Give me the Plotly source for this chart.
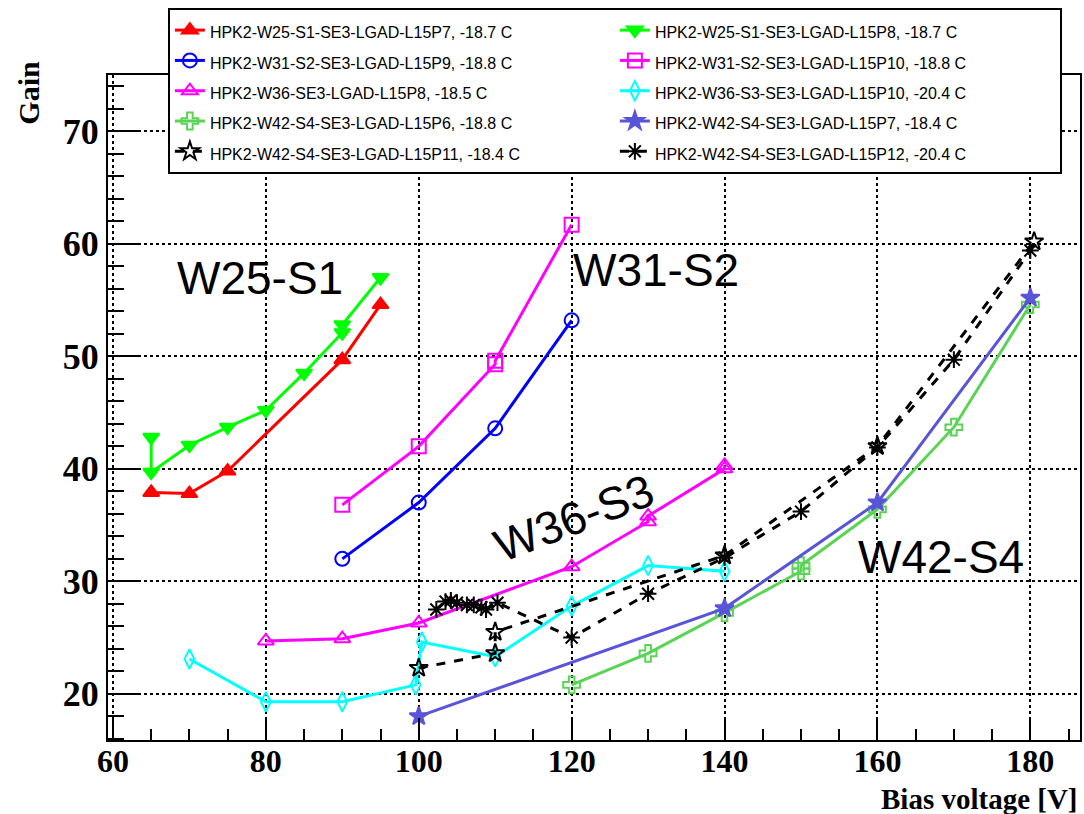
import plotly.graph_objects as go

# Gain vs bias voltage for HPK2 LGAD sensors
labels = [
    "HPK2-W25-S1-SE3-LGAD-L15P7, -18.7 C",
    "HPK2-W25-S1-SE3-LGAD-L15P8, -18.7 C",
    "HPK2-W31-S2-SE3-LGAD-L15P9, -18.8 C",
    "HPK2-W31-S2-SE3-LGAD-L15P10, -18.8 C",
    "HPK2-W36-SE3-LGAD-L15P8, -18.5 C",
    "HPK2-W36-S3-SE3-LGAD-L15P10, -20.4 C",
    "HPK2-W42-S4-SE3-LGAD-L15P6, -18.8 C",
    "HPK2-W42-S4-SE3-LGAD-L15P7, -18.4 C",
    "HPK2-W42-S4-SE3-LGAD-L15P11, -18.4 C",
    "HPK2-W42-S4-SE3-LGAD-L15P12, -20.4 C",
]

w25_p7_v = [65, 70, 75, 90, 95]
w25_p7_g = [37.9, 37.8, 39.8, 49.7, 54.6]

w25_p8_v = [65, 65, 70, 75, 80, 85, 90, 90, 95]
w25_p8_g = [42.8, 39.7, 42.1, 43.7, 45.2, 48.5, 52.1, 52.8, 57.0]

w31_p9_v = [90, 100, 110, 120]
w31_p9_g = [32.0, 37.0, 43.6, 53.2]

w31_p10_v = [90, 100, 110, 110, 120]
w31_p10_g = [36.8, 42.0, 49.3, 49.6, 61.7]

w36_p8_v = [80, 90, 100, 120, 130, 130, 140, 140]
w36_p8_g = [24.7, 24.9, 26.3, 31.3, 35.3, 35.8, 40.0, 40.3]

w36_p10_v = [70, 80, 90, 99.6, 100.4, 110, 120, 130, 140]
w36_p10_g = [23.1, 19.3, 19.3, 20.8, 24.6, 23.3, 27.8, 31.4, 30.9]

w42_p6_v = [120, 130, 140, 150, 150, 160, 170, 180]
w42_p6_g = [20.8, 23.6, 27.2, 30.9, 31.4, 36.4, 43.7, 54.6]

w42_p7_v = [100, 140, 160, 180]
w42_p7_g = [18.0, 27.6, 37.0, 55.2]

w42_p11_v = [100, 110, 110, 140, 160, 180.5]
w42_p11_g = [22.3, 23.6, 25.5, 32.3, 42.0, 60.2]

w42_p12_v = [102.3, 103.5, 104.2, 105, 106.3, 107.2, 108.2, 108.8, 110.3,
             120, 130, 140, 150, 160, 170, 180]
w42_p12_g = [27.5, 28.2, 28.3, 28.1, 27.9, 27.9, 27.7, 27.5, 28.1,
             25.0, 28.9, 32.1, 36.2, 41.9, 49.7, 59.4]

series = [
    (w25_p7_v, w25_p7_g, "#ff0000", "triangle-up", "solid"),
    (w25_p8_v, w25_p8_g, "#00ff00", "triangle-down", "solid"),
    (w31_p9_v, w31_p9_g, "#0000ff", "circle-open", "solid"),
    (w31_p10_v, w31_p10_g, "#ff00ff", "square-open", "solid"),
    (w36_p8_v, w36_p8_g, "#ff00ff", "triangle-up-open", "solid"),
    (w36_p10_v, w36_p10_g, "#00ffff", "diamond-tall-open", "solid"),
    (w42_p6_v, w42_p6_g, "#59d454", "cross-open", "solid"),
    (w42_p7_v, w42_p7_g, "#5954d8", "star", "solid"),
    (w42_p11_v, w42_p11_g, "#000000", "star-open", "dash"),
    (w42_p12_v, w42_p12_g, "#000000", "asterisk-open", "dash"),
]

fig = go.Figure()
for (v, g, col, sym, dash), name in zip(series, labels):
    fig.add_trace(go.Scatter(
        x=v, y=g, mode="lines+markers",
        name="<span style='font-size:16px'>" + name + "</span>",
        line=dict(color=col, width=3, dash=dash),
        marker=dict(symbol=sym, size=14, color=col,
                    line=dict(color=col, width=2)),
    ))

# Sensor group labels
groups = [
    ("W25-S1", 79.2, 57.0, 0),
    ("W31-S2", 131.1, 57.65, 0),
    ("W36-S3", 120.3, 35.6, -21),
    ("W42-S4", 168.3, 32.2, 0),
]
for txt, gx, gy, ang in groups:
    fig.add_annotation(x=gx, y=gy, xref="x", yref="y", text=txt,
                       showarrow=False, textangle=ang,
                       font=dict(family="Liberation Sans", size=46,
                                 color="black"))

axis_common = dict(
    showline=True, linecolor="black", linewidth=2, mirror=True,
    ticks="inside", tickcolor="black", tickwidth=2,
    showgrid=True, gridcolor="black", griddash="dot", gridwidth=1.5,
    zeroline=False,
)

fig.update_xaxes(range=[59.35, 186.5], tick0=60, dtick=20, ticklen=22,
                 ticklabelstandoff=-8,
                 tickfont=dict(family="Liberation Serif", size=32,
                               color="black", weight="bold"),
                 minor=dict(dtick=5, ticks="inside", ticklen=11,
                            tickwidth=1.5, tickcolor="black",
                            showgrid=False),
                 **axis_common)
fig.update_yaxes(range=[15.9, 75], tick0=0, dtick=10, ticklen=31,
                 tickfont=dict(family="Liberation Serif", size=36,
                               color="black", weight="bold"),
                 minor=dict(dtick=2, ticks="inside", ticklen=16,
                            tickwidth=1.5, tickcolor="black",
                            showgrid=False),
                 **axis_common)

fig.add_annotation(text="Gain", xref="paper", yref="paper",
                   x=-0.082, y=1.025, xanchor="center", yanchor="top",
                   textangle=-90, showarrow=False,
                   font=dict(family="Liberation Serif", size=30,
                             color="black", weight="bold"))
fig.add_annotation(text="Bias voltage [V]", xref="paper", yref="paper",
                   x=1.0, y=-0.088, xanchor="right", yanchor="middle",
                   showarrow=False,
                   font=dict(family="Liberation Serif", size=29,
                             color="black", weight="bold"))

fig.update_layout(
    width=1084, height=814,
    margin=dict(l=108, r=2, t=75, b=74),
    plot_bgcolor="white", paper_bgcolor="white",
    legend=dict(orientation="h", x=0.0616, y=1.1008,
                xanchor="left", yanchor="top",
                entrywidth=400, entrywidthmode="pixels",
                bordercolor="black", borderwidth=2, bgcolor="white",
                font=dict(family="Liberation Sans", size=21,
                          color="black")),
)

fig.write_html("out.html")
